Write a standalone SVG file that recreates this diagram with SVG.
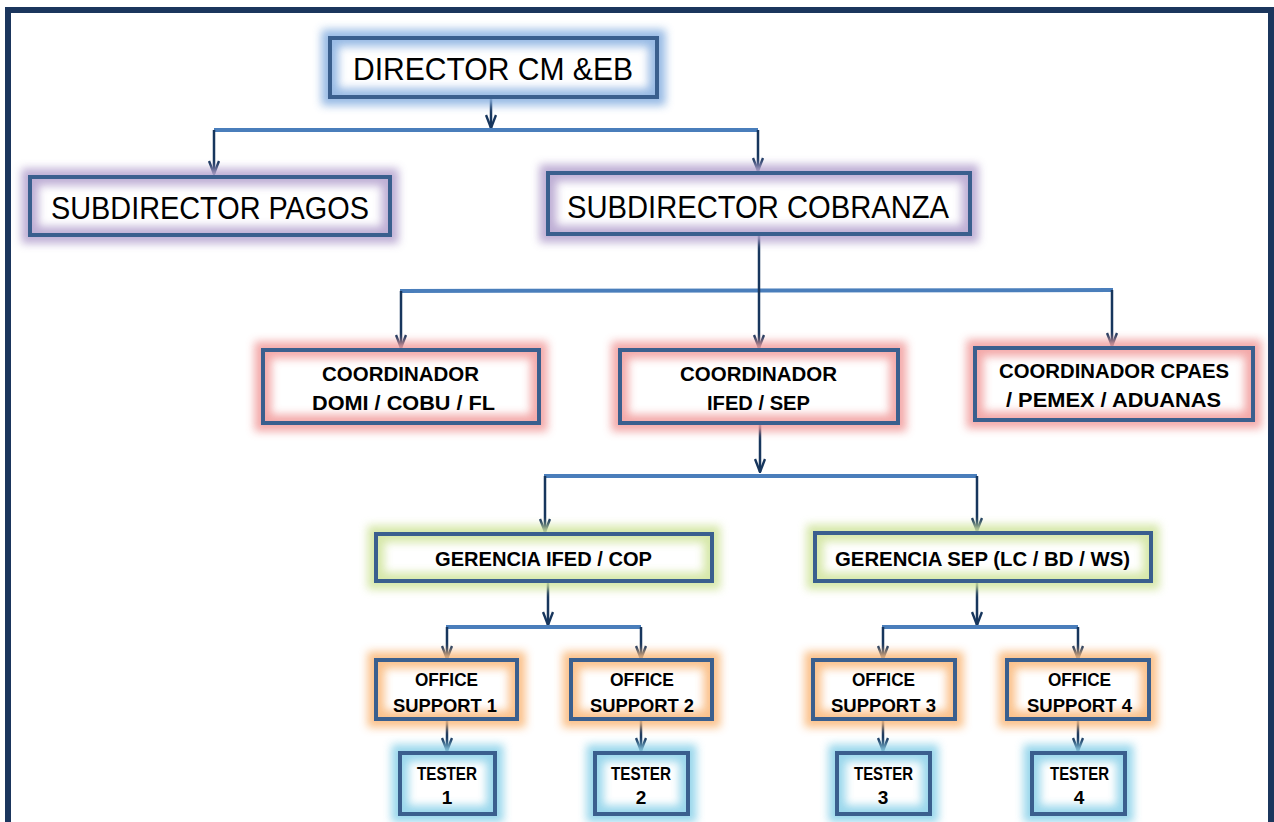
<svg xmlns="http://www.w3.org/2000/svg" width="1274" height="822" viewBox="0 0 1274 822">
<style>
.box{fill:none;stroke:#3A5F8E;stroke-width:4}
.bg{fill:#fff}
.glow{fill:none;stroke-width:17;filter:url(#blur);opacity:0.9}
.big{font-family:"Liberation Sans",Arial,sans-serif;font-size:31px;fill:#000}
.bold{font-family:"Liberation Sans",Arial,sans-serif;font-size:20.5px;font-weight:bold;fill:#000}
.off{font-family:"Liberation Sans",Arial,sans-serif;font-size:19px;font-weight:bold;fill:#000}
.sm{font-family:"Liberation Sans",Arial,sans-serif;font-size:19px;font-weight:bold;fill:#000}
.bus{stroke:#4A7EBB;stroke-width:4;fill:none}
.arr{stroke:#17365D;stroke-width:2.5;fill:none;marker-end:url(#ah)}
</style>
<defs>
<filter id="blur" x="-20%" y="-40%" width="140%" height="180%"><feGaussianBlur stdDeviation="4"/></filter>
<marker id="ah" viewBox="0 0 15 12" refX="14" refY="6" markerWidth="15" markerHeight="12" markerUnits="userSpaceOnUse" orient="auto"><path d="M1,1 L14,6 L1,11" fill="none" stroke="#17365D" stroke-width="2.4"/></marker>
</defs>
<rect x="0" y="0" width="1274" height="822" fill="#fff"/>
<rect x="8" y="10" width="1263" height="830" fill="none" stroke="#1B365D" stroke-width="6"/>

<g id="connectors">
<line class="arr" x1="491" y1="97" x2="491" y2="128"/>
<line class="bus" x1="214" y1="130" x2="758" y2="130"/>
<line class="arr" x1="214" y1="130" x2="214" y2="174"/>
<line class="arr" x1="758" y1="130" x2="758" y2="171"/>
<line class="bus" x1="400" y1="291" x2="1113" y2="290"/>
<line class="arr" x1="759" y1="234" x2="759" y2="348"/>
<line class="arr" x1="401" y1="291" x2="401" y2="348"/>
<line class="arr" x1="1112" y1="290" x2="1112" y2="346"/>
<line class="arr" x1="760" y1="423" x2="760" y2="472"/>
<line class="bus" x1="544" y1="476" x2="977" y2="476"/>
<line class="arr" x1="545" y1="476" x2="545" y2="532"/>
<line class="arr" x1="977" y1="476" x2="977" y2="531"/>
<line class="arr" x1="548" y1="581" x2="548" y2="625"/>
<line class="bus" x1="446" y1="627" x2="641" y2="627"/>
<line class="arr" x1="447" y1="627" x2="447" y2="659"/>
<line class="arr" x1="641" y1="627" x2="641" y2="659"/>
<line class="arr" x1="977" y1="581" x2="977" y2="625"/>
<line class="bus" x1="882" y1="627" x2="1078" y2="627"/>
<line class="arr" x1="883" y1="627" x2="883" y2="659"/>
<line class="arr" x1="1078" y1="627" x2="1078" y2="659"/>
<line class="arr" x1="447" y1="719" x2="447" y2="751"/>
<line class="arr" x1="641" y1="719" x2="641" y2="751"/>
<line class="arr" x1="883" y1="719" x2="883" y2="751"/>
<line class="arr" x1="1078" y1="719" x2="1078" y2="751"/>
</g>

<g id="director">
<rect class="bg" x="330" y="38" width="327" height="59"/>
<rect class="glow" x="330" y="38" width="327" height="59" stroke="#8DB3E2"/>
<rect class="box" x="330" y="38" width="327" height="59"/>
<text class="big" x="353" y="80" textLength="280" lengthAdjust="spacingAndGlyphs">DIRECTOR CM &amp;EB</text>
</g>

<g id="sub-pagos">
<rect class="bg" x="30" y="177" width="360" height="58"/>
<rect class="glow" x="30" y="177" width="360" height="58" stroke="#B7A6D0"/>
<rect class="box" x="30" y="177" width="360" height="58"/>
<text class="big" x="51" y="219" textLength="318" lengthAdjust="spacingAndGlyphs">SUBDIRECTOR PAGOS</text>
</g>

<g id="sub-cobranza">
<rect class="bg" x="548" y="173" width="422" height="61"/>
<rect class="glow" x="548" y="173" width="422" height="61" stroke="#B7A6D0"/>
<rect class="box" x="548" y="173" width="422" height="61"/>
<text class="big" x="567" y="218" textLength="382" lengthAdjust="spacingAndGlyphs">SUBDIRECTOR COBRANZA</text>
</g>

<g id="coord-domi">
<rect class="bg" x="263" y="350" width="276" height="73"/>
<rect class="glow" x="263" y="350" width="276" height="73" stroke="#F2A0A0"/>
<rect class="box" x="263" y="350" width="276" height="73"/>
<text class="bold" x="322" y="381" textLength="157" lengthAdjust="spacingAndGlyphs">COORDINADOR</text>
<text class="bold" x="312" y="410" textLength="183" lengthAdjust="spacingAndGlyphs">DOMI / COBU / FL</text>
</g>

<g id="coord-ifed">
<rect class="bg" x="620" y="350" width="278" height="73"/>
<rect class="glow" x="620" y="350" width="278" height="73" stroke="#F2A0A0"/>
<rect class="box" x="620" y="350" width="278" height="73"/>
<text class="bold" x="680" y="381" textLength="157" lengthAdjust="spacingAndGlyphs">COORDINADOR</text>
<text class="bold" x="707" y="410" textLength="103" lengthAdjust="spacingAndGlyphs">IFED / SEP</text>
</g>

<g id="coord-cpaes">
<rect class="bg" x="975" y="348" width="278" height="72"/>
<rect class="glow" x="975" y="348" width="278" height="72" stroke="#F2A0A0"/>
<rect class="box" x="975" y="348" width="278" height="72"/>
<text class="bold" x="999" y="378" textLength="230" lengthAdjust="spacingAndGlyphs">COORDINADOR  CPAES</text>
<text class="bold" x="1006" y="407" textLength="215" lengthAdjust="spacingAndGlyphs">/ PEMEX / ADUANAS</text>
</g>

<g id="gerencia-ifed">
<rect class="bg" x="376" y="534" width="336" height="47"/>
<rect class="glow" x="376" y="534" width="336" height="47" stroke="#D2E5A0"/>
<rect class="box" x="376" y="534" width="336" height="47"/>
<text class="bold" x="435" y="566" textLength="217" lengthAdjust="spacingAndGlyphs">GERENCIA IFED / COP</text>
</g>

<g id="gerencia-sep">
<rect class="bg" x="815" y="533" width="336" height="48"/>
<rect class="glow" x="815" y="533" width="336" height="48" stroke="#D2E5A0"/>
<rect class="box" x="815" y="533" width="336" height="48"/>
<text class="bold" x="835" y="566" textLength="295" lengthAdjust="spacingAndGlyphs">GERENCIA SEP (LC / BD / WS)</text>
</g>

<g id="office-1">
<rect class="bg" x="376" y="660" width="141" height="59"/>
<rect class="glow" x="376" y="660" width="141" height="59" stroke="#FABB80"/>
<rect class="box" x="376" y="660" width="141" height="59"/>
<text class="off" x="415" y="686" textLength="63" lengthAdjust="spacingAndGlyphs">OFFICE</text>
<text class="off" x="393" y="712" textLength="104" lengthAdjust="spacingAndGlyphs">SUPPORT 1</text>
</g>

<g id="office-2">
<rect class="bg" x="571" y="660" width="141" height="59"/>
<rect class="glow" x="571" y="660" width="141" height="59" stroke="#FABB80"/>
<rect class="box" x="571" y="660" width="141" height="59"/>
<text class="off" x="610" y="686" textLength="64" lengthAdjust="spacingAndGlyphs">OFFICE</text>
<text class="off" x="590" y="712" textLength="104" lengthAdjust="spacingAndGlyphs">SUPPORT 2</text>
</g>

<g id="office-3">
<rect class="bg" x="813" y="660" width="142" height="59"/>
<rect class="glow" x="813" y="660" width="142" height="59" stroke="#FABB80"/>
<rect class="box" x="813" y="660" width="142" height="59"/>
<text class="off" x="852" y="686" textLength="63" lengthAdjust="spacingAndGlyphs">OFFICE</text>
<text class="off" x="831" y="712" textLength="105" lengthAdjust="spacingAndGlyphs">SUPPORT 3</text>
</g>

<g id="office-4">
<rect class="bg" x="1007" y="660" width="142" height="59"/>
<rect class="glow" x="1007" y="660" width="142" height="59" stroke="#FABB80"/>
<rect class="box" x="1007" y="660" width="142" height="59"/>
<text class="off" x="1048" y="686" textLength="63" lengthAdjust="spacingAndGlyphs">OFFICE</text>
<text class="off" x="1027" y="712" textLength="105" lengthAdjust="spacingAndGlyphs">SUPPORT 4</text>
</g>

<g id="tester-1">
<rect class="bg" x="400" y="753" width="95" height="61"/>
<rect class="glow" x="400" y="753" width="95" height="61" stroke="#8FD3EA"/>
<rect class="box" x="400" y="753" width="95" height="61"/>
<text class="sm" x="417" y="780" textLength="60" lengthAdjust="spacingAndGlyphs">TESTER</text>
<text class="sm" x="447" y="804" text-anchor="middle">1</text>
</g>

<g id="tester-2">
<rect class="bg" x="595" y="753" width="93" height="61"/>
<rect class="glow" x="595" y="753" width="93" height="61" stroke="#8FD3EA"/>
<rect class="box" x="595" y="753" width="93" height="61"/>
<text class="sm" x="611" y="780" textLength="60" lengthAdjust="spacingAndGlyphs">TESTER</text>
<text class="sm" x="641" y="804" text-anchor="middle">2</text>
</g>

<g id="tester-3">
<rect class="bg" x="837" y="753" width="93" height="61"/>
<rect class="glow" x="837" y="753" width="93" height="61" stroke="#8FD3EA"/>
<rect class="box" x="837" y="753" width="93" height="61"/>
<text class="sm" x="854" y="780" textLength="59" lengthAdjust="spacingAndGlyphs">TESTER</text>
<text class="sm" x="883" y="804" text-anchor="middle">3</text>
</g>

<g id="tester-4">
<rect class="bg" x="1032" y="753" width="93" height="61"/>
<rect class="glow" x="1032" y="753" width="93" height="61" stroke="#8FD3EA"/>
<rect class="box" x="1032" y="753" width="93" height="61"/>
<text class="sm" x="1050" y="780" textLength="59" lengthAdjust="spacingAndGlyphs">TESTER</text>
<text class="sm" x="1079" y="804" text-anchor="middle">4</text>
</g>
</svg>
